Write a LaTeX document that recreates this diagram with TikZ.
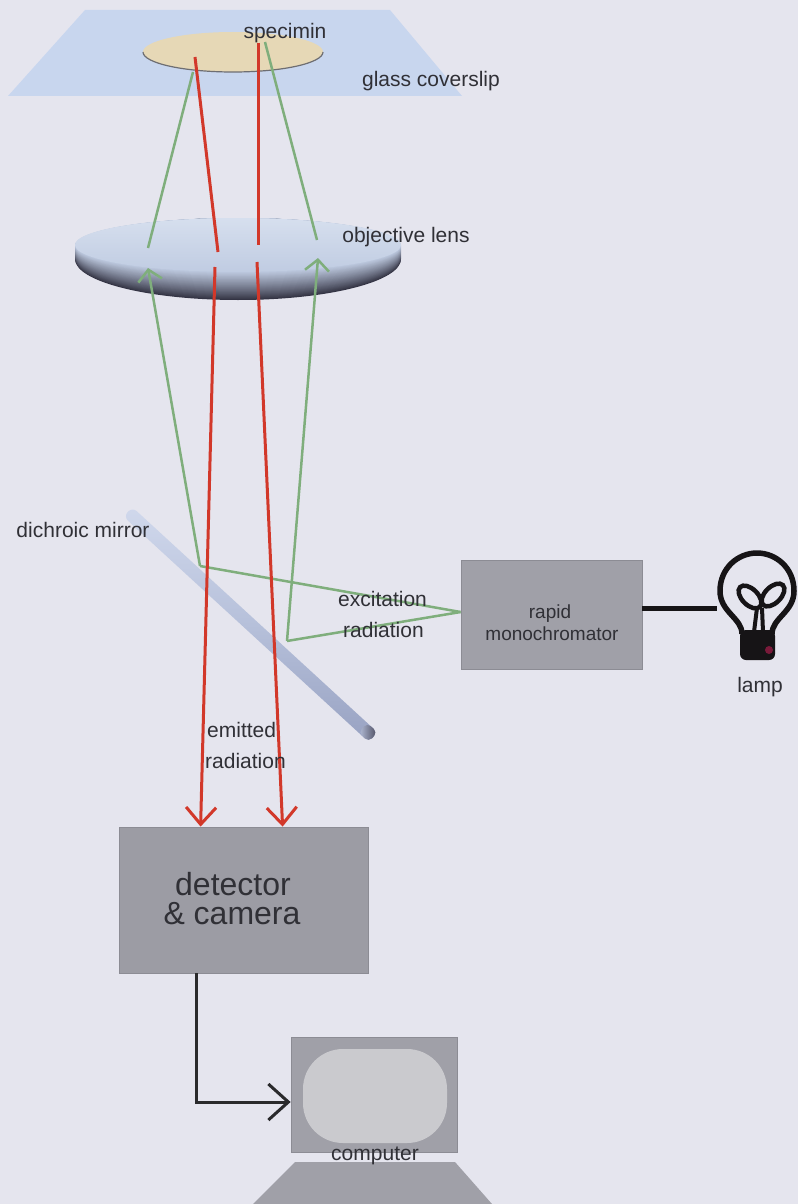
\documentclass[tikz,border=0pt]{standalone}
\usepackage{fontspec}
\setmainfont{Liberation Sans}
\usetikzlibrary{arrows.meta,calc}

\definecolor{bg}{HTML}{E5E5EE}
\definecolor{glass}{HTML}{C8D6EE}
\definecolor{specfill}{HTML}{E6D8B6}
\definecolor{specrim}{HTML}{6E6E72}
\definecolor{ray}{HTML}{D2382A}
\definecolor{exc}{HTML}{7FAE7C}
\definecolor{boxgray}{HTML}{A0A0A8}
\definecolor{boxedge}{HTML}{8C8C94}
\definecolor{detgray}{HTML}{9C9CA4}
\definecolor{screen}{HTML}{CACACE}
\definecolor{ink}{HTML}{303036}
\definecolor{wire}{HTML}{2A2A2C}
\definecolor{lensdark}{HTML}{343444}
\definecolor{lenslight}{HTML}{C0CCE2}
\definecolor{lenstop}{HTML}{D6DFEE}
\definecolor{mirrorlight}{HTML}{D0D8EC}
\definecolor{mirrorbody}{HTML}{B6C0DA}
\definecolor{mirrordark}{HTML}{98A2C2}
\definecolor{mirrorend}{HTML}{4A4A5E}
\definecolor{bulb}{HTML}{161416}
\definecolor{bulbspot}{HTML}{7A1A3A}

\tikzset{
  lbl/.style={font=\fontsize{21}{25}\selectfont, text=ink, inner sep=0pt, anchor=base},
  smalllbl/.style={font=\fontsize{19}{22}\selectfont, text=ink, inner sep=0pt, anchor=base},
  biglbl/.style={font=\fontsize{32}{36}\selectfont, text=ink, inner sep=0pt, anchor=base},
  graybox/.style={draw=boxedge, line width=0.8pt, fill=boxgray, inner sep=0pt},
  emission/.style={draw=ray, line width=3pt},
  emissionarrow/.style={emission, -{Straight Barb[length=17pt,width=30pt]}},
  excitation/.style={draw=exc, line width=2.5pt},
  excitationarrow/.style={excitation, -{Straight Barb[length=11pt,width=24pt]}},
  signal/.style={draw=wire, line width=3pt, -{Straight Barb[length=20pt,width=36pt]}},
}

\begin{document}
\begin{tikzpicture}[x=1pt,y=-1pt]
\fill[bg] (0,0) rectangle (798,1204);
\useasboundingbox (0,0) rectangle (798,1204);

% glass coverslip and specimen
\fill[glass] (85,10) -- (390,10) -- (462,96) -- (8,96) -- cycle;
\fill[specfill] (233,52) ellipse [x radius=90, y radius=20];
\draw[specrim, line width=1.2pt] (143,52) arc [start angle=180, end angle=0, x radius=90, y radius=20];

% objective lens: stacked ellipses give the shaded underside
\foreach \i in {0,...,27} {
  \pgfmathsetmacro\cy{259-0.5*\i}
  \pgfmathsetmacro\ry{41-0.5*\i}
  \pgfmathtruncatemacro\pct{100*(\i/28)^0.9}
  \fill[lenslight!\pct!lensdark] (238,\cy) ellipse [x radius=163, y radius=\ry];
}
\path[top color=lenstop, bottom color=lenslight] (238,245) ellipse [x radius=163, y radius=27];

% dichroic mirror
\node[rotate=-42.57, minimum width=333pt, minimum height=13pt, inner sep=0pt,
      rounded corners=6pt, top color=mirrorlight, bottom color=mirrordark,
      middle color=mirrorbody] (mirror) at (250.5,624.5) {};
\node[rotate=-42.57, minimum width=14pt, minimum height=13pt, inner sep=0pt,
      rounded corners=5pt, left color=mirrorbody, right color=mirrorend, anchor=east]
      (mirrorcap) at (mirror.east) {};

% boxes
\node[graybox, minimum width=181pt, minimum height=109pt] (mono) at (551.5,614.5) {};
\node[graybox, fill=detgray, minimum width=249pt, minimum height=146pt] (det) at (243.5,900) {};
\node[graybox, fill=boxgray, minimum width=166pt, minimum height=115pt] (mon) at (374,1094.5) {};
\node[fill=screen, rounded corners=40pt, minimum width=144pt, minimum height=94pt, inner sep=0pt] (scr) at (375,1096) {};
\fill[boxgray] (295,1162) -- (455,1162) -- (492,1204) -- (253,1204) -- cycle;

% ray points
\coordinate (rL0) at (195,57);  \coordinate (rL1) at (218,252);
\coordinate (rL2) at (215,267); \coordinate (rL3) at ($(det.north west)+(82,0)$);
\coordinate (rR0) at (258,43);  \coordinate (rR1) at (258,245);
\coordinate (rR2) at (257,262); \coordinate (rR3) at ($(det.north west)+(164,0)$);
\coordinate (gL0) at (193,72);  \coordinate (gL1) at (148,248);
\coordinate (gL2) at (148,268); \coordinate (gM1) at (200,566);
\coordinate (gR0) at (265,42);  \coordinate (gR1) at (317,240);
\coordinate (gR2) at (318,258); \coordinate (gM2) at (287,641);
\coordinate (gS) at ($(mono.west)+(0,-2.5)$);

% excitation light
\draw[excitation] (gS) -- (gM1);
\draw[excitation] (gS) -- (gM2);
\draw[excitationarrow] (gM1) -- (gL2);
\draw[excitationarrow] (gM2) -- (gR2);
\draw[excitation] (gL0) -- (gL1);
\draw[excitation] (gR0) -- (gR1);

% emitted light
\draw[emission] (rL0) -- (rL1);
\draw[emission] (rR0) -- (rR1);
\draw[emissionarrow] (rL2) -- (rL3);
\draw[emissionarrow] (rR2) -- (rR3);

% lamp
\coordinate (lampL) at (717,608);
\draw[bulb, line width=5pt] (mono.east |- lampL) -- (lampL);
\draw[bulb, line width=5.5pt, line join=round]
  (742,634) .. controls (742,618) and (720,612) .. (720,591)
  .. controls (720,568) and (738,553) .. (757,553)
  .. controls (776,553) and (794,568) .. (794,591)
  .. controls (794,612) and (772,618) .. (772,634);
\fill[bulb, rounded corners=6pt] (740,630) -- (775,630) -- (775,660) -- (740,660) -- cycle;
\fill[bulbspot] (769,650) circle [radius=4];
\draw[bulb, line width=4pt] (754,632) -- (757,608);
\draw[bulb, line width=4pt] (763,632) -- (762,608);
\draw[bulb, line width=4.5pt, rotate around={-45:(750,597)}] (750,597) ellipse [x radius=14, y radius=8];
\draw[bulb, line width=4.5pt, rotate around={45:(773,595)}] (773,595) ellipse [x radius=14, y radius=8];

% detector to computer
\draw[signal] ($(det.south west)!0.313!(det.south east)$) |- ($(mon.west)+(0,7.5)$);

% labels
\node[lbl] (tspec) at (285,39) {specimin};
\node[lbl] (tglass) at (431,87) {glass coverslip};
\node[lbl] (tobj) at (406,242) {objective lens};
\node[lbl] (tmirror) at (83,537) {dichroic mirror};
\node[lbl, anchor=base west] (texc1) at (338,606) {excitation};
\node[lbl, anchor=base west] (texc2) at (343,637) {radiation};
\node[lbl, anchor=base west] (tem1) at (207,737) {emitted};
\node[lbl, anchor=base west] (tem2) at (205,768) {radiation};
\node[smalllbl] (tmono1) at (550,618) {rapid};
\node[smalllbl] (tmono2) at (552,640) {monochromator};
\node[lbl] (tlamp) at (760,692) {lamp};
\node[biglbl] (tdet1) at (233,895) {detector};
\node[biglbl] (tdet2) at (232,924) {\& camera};
\node[lbl] (tcomp) at (375,1160) {computer};
\end{tikzpicture}
\end{document}
